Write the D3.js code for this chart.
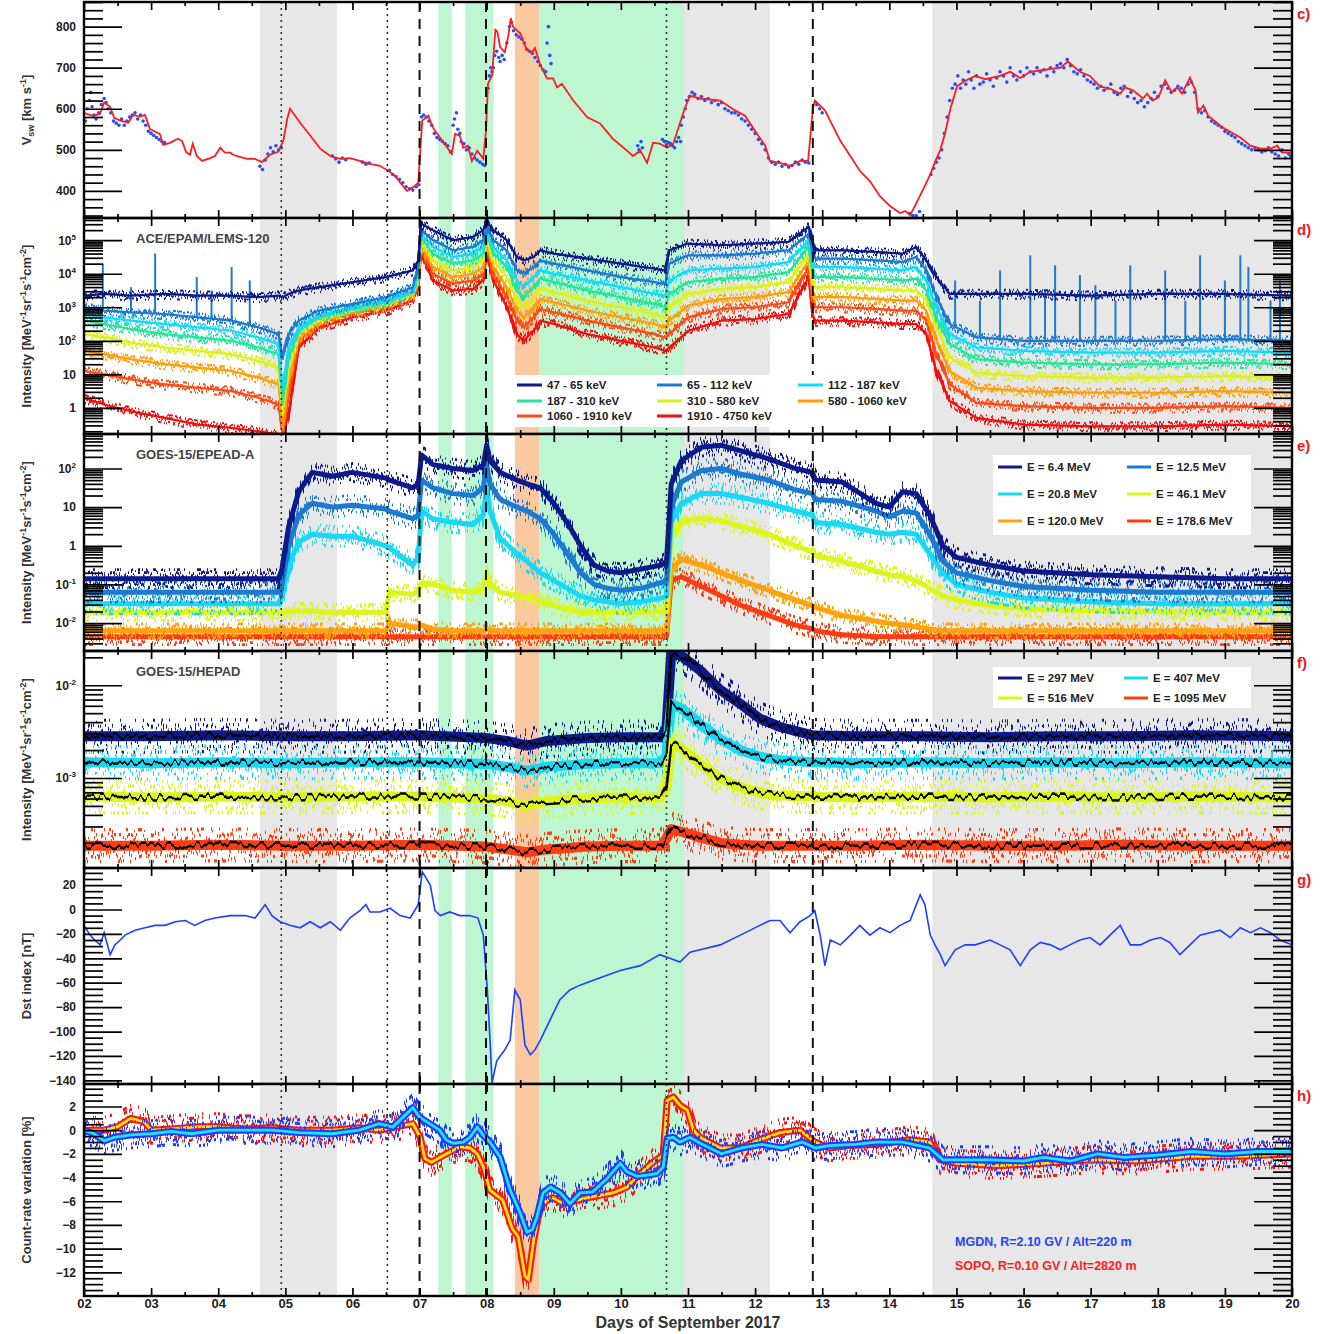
<!DOCTYPE html>
<html>
<head>
<meta charset="utf-8">
<script src="https://cdn.jsdelivr.net/npm/d3@7/dist/d3.min.js"></script>
<style>
  body { margin: 0; background: #fff; }
  text { font-family: "Liberation Sans", Arial, Helvetica, sans-serif; font-weight: bold; }
</style>
</head>
<body>
<svg id="chart" width="1335" height="1334"></svg>
<script>
/* Sept 2017 event: solar wind, ACE/EPAM, GOES EPEAD + HEPAD, Dst, neutron monitors */

// ---- axis ticks / labels ----
const dayTicks  = [2,3,4,5,6,7,8,9,10,11,12,13,14,15,16,17,18,19,20];
const dayLabels = ["02","03","04","05","06","07","08","09","10","11","12","13","14","15","16","17","18","19","20"];
const vswMajors = [400, 500, 600, 700, 800];
const lemsMajors = [1, 10, 1e2, 1e3, 1e4, 1e5];
const epeadMajors = [1e-2, 1e-1, 1, 10, 1e2];
const hepadMajors = [1e-3, 1e-2];
const dstMajors = [-140, -120, -100, -80, -60, -40, -20, 0, 20];
const crMajors = [-12, -10, -8, -6, -4, -2, 0, 2];

// ---- shaded intervals [start, end, kind] and event lines (days) ----
const bands = [
  [4.62, 5.77, "grey"], [7.28, 7.48, "green"], [7.68, 8.10, "green"],
  [8.42, 8.78, "orange"], [8.78, 10.94, "green"], [10.94, 12.22, "grey"], [14.64, 20, "grey"]
];
const dashedDays = [7.0, 7.99, 12.86];
const dottedDays = [4.94, 6.52, 10.68];

// ---- c) solar wind speed [day, km/s] ----
const vswSmooth = [[2.0,590],[2.03,588],[2.13,583],[2.24,588],[2.30,615],[2.39,605],[2.45,578],[2.54,571],[2.66,566],[2.73,585],[2.83,581],[2.91,585],[2.98,551],[3.06,544],[3.13,539],[3.18,512],[3.28,517],[3.40,527],[3.46,522],[3.52,495],[3.58,488],[3.62,515],[3.68,485],[3.76,473],[3.88,480],[3.95,485],[4.03,505],[4.10,493],[4.18,493],[4.22,488],[4.32,483],[4.44,478],[4.55,478],[4.65,470],[4.77,488],[4.89,495],[4.97,522],[5.03,577],[5.07,600],[5.22,566],[5.37,535],[5.52,503],[5.67,485],[5.82,478],[5.96,480],[6.11,473],[6.26,466],[6.41,461],[6.61,441],[6.81,400],[6.93,412],[6.98,420],[7.04,571],[7.13,583],[7.20,554],[7.34,522],[7.48,490],[7.53,539],[7.60,534],[7.65,505],[7.72,510],[7.78,473],[7.86,498],[7.95,478],[7.99,546],[8.02,661],[8.08,681],[8.13,792],[8.16,787],[8.20,750],[8.27,738],[8.32,775],[8.36,821],[8.39,800],[8.50,784],[8.60,743],[8.68,738],[8.72,748],[8.80,706],[8.90,674],[8.99,674],[9.05,652],[9.12,661],[9.29,620],[9.50,579],[9.69,564],[9.88,527],[10.09,498],[10.18,485],[10.29,498],[10.39,468],[10.48,517],[10.58,515],[10.69,505],[10.78,515],[10.95,600],[11.03,632],[11.18,625],[11.48,620],[11.70,596],[11.85,583],[12.00,546],[12.15,510],[12.22,473],[12.37,468],[12.52,461],[12.67,473],[12.79,473],[12.86,600],[12.89,620],[13.04,596],[13.27,522],[13.56,449],[13.71,424],[13.86,387],[14.01,363],[14.16,346],[14.24,351],[14.31,341],[14.38,363],[14.53,412],[14.61,440],[14.68,470],[14.76,500],[14.83,540],[14.91,600],[15.01,655],[15.13,668],[15.28,680],[15.43,672],[15.65,680],[15.80,690],[15.95,675],[16.10,690],[16.32,695],[16.55,700],[16.66,715],[16.84,690],[16.99,680],[17.14,654],[17.29,649],[17.44,637],[17.51,652],[17.63,645],[17.78,625],[17.84,637],[17.92,620],[18.01,628],[18.11,669],[18.21,640],[18.29,652],[18.36,637],[18.48,676],[18.56,645],[18.60,591],[18.68,608],[18.75,583],[18.97,554],[19.23,530],[19.38,510],[19.53,503],[19.68,503],[19.78,510],[19.85,493],[20.0,493]];

const vswRaw = [[2.02,570],[2.05,600],[2.08,620],[2.1,640],[2.12,605],[2.15,585],[2.18,575],[2.22,590],[2.26,610],[2.3,625],[2.33,615],[2.36,600],[2.4,590],[2.44,570],[2.48,565],[2.52,560],[2.56,575],[2.6,560],[2.64,570],[2.68,580],[2.72,585],[2.76,590],[2.8,575],[2.84,585],[2.88,570],[2.92,560],[2.96,545],[3.0,540],[3.04,535],[3.08,530],[3.12,525],[3.16,520],[3.2,518],
  [4.62,460],[4.66,452],[4.7,475],[4.74,490],[4.78,505],[4.82,495],[4.86,510],[4.9,500],[4.94,505],
  [5.7,485],[5.75,478],[5.8,470],[5.85,480],[5.9,476],[6.15,470],[6.2,465],[6.25,468],
  [6.55,450],[6.6,440],[6.65,435],[6.7,428],[6.75,420],[6.8,410],[6.85,405],[6.9,402],[6.95,410],[6.99,415],
  [7.03,580],[7.06,585],[7.1,580],[7.14,570],[7.18,560],[7.22,540],[7.26,530],[7.3,525],[7.34,520],[7.38,515],[7.42,510],[7.46,495],[7.5,560],[7.52,575],[7.55,590],[7.57,550],[7.6,540],[7.62,520],[7.66,515],[7.7,500],[7.74,505],[7.78,490],[7.82,480],[7.86,475],[7.9,470],[7.94,465],[7.97,462],
  [8.02,650],[8.04,680],[8.06,700],[8.08,690],[8.1,700],[8.12,730],[8.15,740],[8.18,725],[8.2,715],[8.23,730],[8.26,720],[8.3,760],[8.34,800],[8.37,810],[8.4,790],[8.44,780],[8.48,775],[8.52,770],[8.56,760],[8.6,745],[8.64,740],[8.68,735],[8.72,725],[8.76,715],[8.8,705],[8.84,695],[8.88,690],[8.9,760],[8.92,800],[8.94,730],[8.96,710],
  [10.25,510],[10.27,500],[10.3,520],[10.32,505],
  [10.62,525],[10.65,520],[10.68,512],[10.71,518],[10.74,515],[10.77,510],[10.8,505],[10.83,520],[10.86,530],[10.89,520],[10.9,560],[10.93,580],[10.96,600],[10.98,620],
  [11.02,630],[11.06,640],[11.1,635],[11.15,625],[11.2,630],[11.25,620],[11.3,625],[11.35,615],[11.4,620],[11.45,610],[11.5,615],[11.55,600],[11.6,595],[11.65,590],[11.7,590],[11.75,585],[11.8,575],[11.85,570],[11.9,560],[11.95,550],[12.0,540],[12.05,525],[12.1,515],[12.15,500],[12.2,480],[12.25,470],[12.3,465],[12.35,470],[12.4,460],[12.45,465],[12.5,458],[12.55,462],[12.6,470],[12.65,465],[12.7,475],[12.75,470],[12.8,468],
  [12.92,610],[12.96,600],[13.0,590],[14.3,345],[14.35,340],[14.4,340],[14.45,350],
  [14.62,440],[14.66,455],[14.7,470],[14.74,480],[14.78,500],[14.82,540],[14.86,580],[14.9,620],[14.94,650],[14.98,660],[15.02,680],[15.06,650],[15.1,670],[15.14,660],[15.18,690],[15.22,670],[15.26,650],[15.3,680],[15.35,660],[15.4,665],[15.45,685],[15.5,670],[15.55,655],[15.6,675],[15.65,690],[15.7,680],[15.75,665],[15.8,700],[15.85,680],[15.9,670],[15.95,690],[16.0,680],[16.05,700],[16.1,690],[16.15,685],[16.2,700],[16.25,690],[16.3,695],[16.35,680],[16.4,700],[16.45,690],[16.5,705],[16.55,710],[16.6,700],[16.65,720],[16.7,705],[16.75,690],[16.8,685],[16.85,695],[16.9,680],[16.95,670],[17.0,665],[17.05,660],[17.1,650],[17.15,655],[17.2,645],[17.25,650],[17.3,660],[17.35,640],[17.4,635],[17.45,650],[17.5,655],[17.55,630],[17.6,640],[17.65,625],[17.7,615],[17.75,620],[17.8,605],[17.85,615],[17.9,625],[17.95,640],[18.0,630],[18.05,655],[18.1,660],[18.15,650],[18.2,640],[18.25,645],[18.3,655],[18.35,650],[18.4,640],[18.45,660],[18.5,665],[18.55,640],[18.6,600],[18.65,590],[18.7,595],[18.75,580],[18.8,570],[18.85,565],[18.9,560],[18.95,555],[19.0,545],[19.05,540],[19.1,535],[19.15,530],[19.2,520],[19.25,515],[19.3,510],[19.35,505],[19.4,500],[19.45,505],[19.5,500],[19.55,495],[19.6,498],[19.65,505],[19.7,495],[19.75,490],[19.8,485],[19.85,500],[19.9,480],[19.95,490],[19.98,485]];

// ---- d) ACE/EPAM/LEMS-120, log10 intensity on a shared time grid ----
const lemsT = [2.0,2.3,2.7,3.2,3.7,4.2,4.6,4.9,4.96,5.05,5.2,5.5,6.0,6.5,6.9,6.98,7.02,7.2,7.5,7.8,7.95,8.0,8.1,8.3,8.45,8.55,8.7,8.8,9.0,9.5,10.0,10.5,10.66,10.72,11.0,11.5,12.0,12.5,12.8,12.85,12.9,13.3,13.8,14.2,14.4,14.55,14.7,14.9,15.3,16.0,17.0,18.0,19.0,20.0];
const lems47   = [3.35,3.4,3.35,3.4,3.35,3.35,3.3,3.35,3.3,3.4,3.5,3.6,3.75,3.9,4.1,4.4,5.5,5.3,5.0,5.1,5.3,5.55,5.3,5.0,4.5,4.4,4.5,4.7,4.6,4.45,4.3,4.15,4.1,4.7,4.9,4.85,4.9,4.95,5.4,5.0,4.7,4.7,4.65,4.6,4.8,4.4,3.9,3.4,3.4,3.4,3.35,3.4,3.4,3.35];
const lems65   = [3.0,2.9,2.85,2.8,2.7,2.6,2.4,2.2,1.5,2.2,2.6,2.9,3.1,3.3,3.6,4.2,5.3,5.0,4.7,4.8,5.0,5.4,5.0,4.7,4.1,4.0,4.2,4.4,4.3,4.1,3.9,3.75,3.7,4.3,4.55,4.55,4.6,4.7,5.2,4.7,4.45,4.45,4.4,4.35,4.5,4.1,3.3,2.5,2.1,2.0,2.0,2.0,2.05,2.0];
const lems112  = [2.8,2.7,2.6,2.5,2.4,2.3,2.1,1.9,0.5,1.8,2.4,2.75,3.0,3.2,3.5,4.1,5.2,4.8,4.5,4.6,4.8,5.3,4.8,4.4,3.8,3.6,3.9,4.1,4.0,3.8,3.6,3.4,3.35,3.8,4.1,4.15,4.2,4.35,5.0,4.4,4.2,4.2,4.15,4.1,4.2,3.8,3.0,2.2,1.8,1.7,1.65,1.65,1.7,1.65];
const lems187  = [2.6,2.5,2.35,2.2,2.1,2.0,1.8,1.6,0.2,1.5,2.3,2.7,2.95,3.15,3.45,4.0,5.1,4.6,4.3,4.4,4.6,5.2,4.6,4.2,3.5,3.3,3.6,3.85,3.75,3.5,3.3,3.1,3.0,3.4,3.75,3.85,3.9,4.05,4.8,4.1,3.9,3.9,3.85,3.8,3.85,3.5,2.7,1.9,1.45,1.35,1.3,1.3,1.35,1.3];
const lems310  = [2.2,2.1,1.95,1.8,1.7,1.6,1.4,1.2,-0.1,1.2,2.2,2.6,2.9,3.1,3.4,3.9,4.95,4.4,4.1,4.2,4.4,5.05,4.4,3.9,3.2,3.0,3.3,3.55,3.45,3.2,3.0,2.8,2.7,3.0,3.4,3.55,3.6,3.75,4.6,3.8,3.6,3.6,3.55,3.5,3.5,3.2,2.4,1.5,1.05,0.95,0.9,0.9,0.95,0.9];
const lems580  = [1.7,1.6,1.45,1.3,1.2,1.1,0.9,0.7,-0.5,0.8,2.1,2.55,2.85,3.05,3.35,3.8,4.85,4.2,3.9,4.0,4.2,4.9,4.2,3.6,2.9,2.7,3.0,3.25,3.15,2.9,2.7,2.5,2.4,2.6,3.05,3.25,3.3,3.45,4.4,3.5,3.3,3.3,3.25,3.2,3.2,2.9,2.0,1.1,0.6,0.5,0.45,0.45,0.5,0.45];
const lems1060 = [1.1,1.0,0.85,0.7,0.6,0.5,0.3,0.1,-0.8,0.4,2.0,2.5,2.8,3.0,3.3,3.7,4.75,4.0,3.7,3.8,4.0,4.75,4.0,3.3,2.6,2.4,2.7,2.95,2.85,2.6,2.4,2.2,2.1,2.2,2.7,2.95,3.0,3.15,4.2,3.2,3.0,3.0,2.95,2.9,2.9,2.6,1.6,0.7,0.15,0.05,0.0,0.0,0.05,0.0];
const lems1910 = [0.3,0.1,-0.1,-0.3,-0.5,-0.6,-0.7,-0.8,-0.8,-0.2,1.8,2.4,2.7,2.9,3.2,3.6,4.6,3.8,3.5,3.55,3.8,4.6,3.8,3.0,2.2,2.0,2.3,2.6,2.5,2.2,2.0,1.8,1.7,1.8,2.3,2.6,2.65,2.8,3.9,2.8,2.6,2.6,2.55,2.5,2.5,2.2,1.1,0.2,-0.3,-0.5,-0.55,-0.55,-0.5,-0.55];
// 65-112 keV spikes [day, base log10, peak log10]
const lemsSpikes = [[2.28,2.9,4.3],[2.7,2.85,3.6],[3.06,2.8,4.6],[3.68,2.7,3.9],[3.9,2.65,3.5],[4.2,2.6,4.2],[4.47,2.45,3.8],
  [14.98,2.4,3.8],[15.35,2.1,3.2],[15.65,2.0,4.1],[16.1,2.0,4.55],[16.32,2.0,3.5],[16.47,2.0,4.25],[16.84,2.0,3.96],[17.07,2.0,3.66],[17.37,2.0,3.2],[17.59,2.0,4.25],[18.11,2.0,4.1],[18.41,2.0,3.2],[18.63,2.0,4.55],[19.0,2.05,3.8],[19.23,2.0,4.55],[19.35,2.0,4.2],[19.68,2.0,3.2],[19.82,2.0,3.8]];

// ---- e) GOES-15/EPEAD-A, log10 intensity ----
const epeadT = [2.0,3.0,4.0,4.9,4.95,5.05,5.2,5.4,5.7,6.0,6.5,6.55,6.9,6.98,7.03,7.2,7.5,7.8,7.95,8.0,8.05,8.2,8.45,8.6,8.8,9.0,9.2,9.4,9.6,9.8,10.0,10.3,10.6,10.68,10.75,10.9,11.2,11.5,11.8,12.2,12.6,12.85,12.9,13.3,13.8,14.0,14.2,14.4,14.6,14.8,15.0,15.5,16.0,17.0,18.0,19.0,20.0];
const ep6_4   = [-0.85,-0.85,-0.85,-0.85,-0.6,0.5,1.4,1.9,1.8,1.9,1.75,1.7,1.5,1.6,2.35,2.1,2.0,1.95,2.1,2.6,2.2,1.9,1.7,1.6,1.5,1.1,0.6,0.0,-0.5,-0.65,-0.7,-0.6,-0.5,-0.4,1.6,2.2,2.55,2.6,2.45,2.25,2.0,1.9,1.7,1.65,1.1,1.0,1.4,1.35,0.8,0.0,-0.3,-0.5,-0.65,-0.75,-0.8,-0.85,-0.85];
const ep12_5  = [-1.2,-1.2,-1.2,-1.2,-1.0,0.0,0.8,1.1,1.0,1.05,0.95,0.9,0.7,0.8,1.7,1.5,1.35,1.3,1.5,2.1,1.6,1.2,1.0,0.9,0.7,0.3,-0.2,-0.7,-1.0,-1.1,-1.15,-1.1,-0.95,-0.9,1.0,1.65,1.95,2.0,1.85,1.7,1.45,1.35,1.2,1.15,0.9,0.75,0.9,0.85,0.3,-0.4,-0.7,-0.9,-1.05,-1.15,-1.2,-1.2,-1.2];
const ep20_8  = [-1.5,-1.5,-1.5,-1.5,-1.3,-0.5,0.1,0.3,0.25,0.25,0.0,-0.05,-0.5,-0.3,0.9,0.7,0.6,0.55,0.8,1.5,0.9,0.2,-0.2,-0.4,-0.7,-0.9,-1.1,-1.3,-1.4,-1.45,-1.5,-1.45,-1.35,-1.3,0.6,1.1,1.35,1.35,1.25,1.1,0.9,0.8,0.6,0.55,0.35,0.3,0.35,0.3,-0.2,-0.7,-1.0,-1.2,-1.35,-1.45,-1.5,-1.5,-1.5];
const ep46_1  = [-1.72,-1.72,-1.72,-1.72,-1.72,-1.7,-1.7,-1.7,-1.72,-1.72,-1.72,-1.2,-1.25,-1.2,-0.95,-1.0,-1.15,-1.2,-1.1,-0.7,-1.0,-1.2,-1.3,-1.35,-1.45,-1.55,-1.65,-1.7,-1.72,-1.72,-1.72,-1.72,-1.7,-1.7,0.2,0.65,0.7,0.65,0.5,0.3,0.0,-0.15,-0.25,-0.4,-0.65,-0.75,-0.8,-0.9,-1.1,-1.3,-1.4,-1.55,-1.62,-1.68,-1.7,-1.72,-1.72];
const ep120   = [-2.2,-2.2,-2.2,-2.2,-2.2,-2.2,-2.2,-2.2,-2.2,-2.2,-2.2,-2.0,-2.1,-2.1,-2.05,-2.15,-2.2,-2.2,-2.2,-2.15,-2.2,-2.2,-2.2,-2.2,-2.2,-2.2,-2.2,-2.2,-2.2,-2.2,-2.2,-2.2,-2.2,-2.2,-0.6,-0.35,-0.5,-0.7,-0.9,-1.15,-1.4,-1.55,-1.6,-1.8,-1.95,-2.0,-2.05,-2.1,-2.15,-2.2,-2.2,-2.2,-2.2,-2.2,-2.2,-2.2,-2.2];
const ep178_6 = [-2.35,-2.35,-2.35,-2.35,-2.35,-2.35,-2.35,-2.35,-2.35,-2.35,-2.35,-2.35,-2.35,-2.35,-2.35,-2.35,-2.35,-2.35,-2.35,-2.35,-2.35,-2.35,-2.35,-2.35,-2.35,-2.35,-2.35,-2.35,-2.35,-2.35,-2.35,-2.35,-2.35,-2.35,-0.9,-0.8,-1.05,-1.3,-1.55,-1.8,-2.05,-2.15,-2.2,-2.3,-2.35,-2.35,-2.35,-2.35,-2.35,-2.35,-2.35,-2.35,-2.35,-2.35,-2.35,-2.35,-2.35];

// ---- f) GOES-15/HEPAD, log10 intensity ----
const hepadT = [2.0,3.0,4.0,5.0,6.0,7.0,8.0,8.3,8.6,8.9,9.5,10.0,10.6,10.68,10.75,10.9,11.18,11.48,11.78,12.07,12.37,12.86,13.5,14.5,15.5,16.5,17.5,18.5,20.0];
const hp297  = [-2.55,-2.55,-2.54,-2.55,-2.55,-2.54,-2.57,-2.6,-2.65,-2.6,-2.57,-2.56,-2.56,-2.45,-1.65,-1.68,-1.84,-2.05,-2.2,-2.36,-2.45,-2.54,-2.55,-2.55,-2.56,-2.55,-2.55,-2.54,-2.55];
const hp407  = [-2.83,-2.84,-2.83,-2.84,-2.83,-2.83,-2.85,-2.88,-2.92,-2.88,-2.85,-2.84,-2.84,-2.75,-2.2,-2.25,-2.42,-2.58,-2.7,-2.77,-2.81,-2.83,-2.84,-2.83,-2.84,-2.83,-2.84,-2.83,-2.84];
const hp516  = [-3.2,-3.21,-3.2,-3.21,-3.2,-3.2,-3.22,-3.25,-3.3,-3.25,-3.22,-3.21,-3.21,-3.1,-2.62,-2.68,-2.85,-3.0,-3.1,-3.16,-3.19,-3.2,-3.21,-3.2,-3.21,-3.2,-3.21,-3.2,-3.21];
const hp1095 = [-3.73,-3.73,-3.72,-3.73,-3.73,-3.72,-3.74,-3.77,-3.8,-3.77,-3.74,-3.73,-3.73,-3.65,-3.55,-3.58,-3.64,-3.7,-3.72,-3.73,-3.73,-3.73,-3.73,-3.72,-3.73,-3.73,-3.72,-3.73,-3.73];

// ---- g) Dst index [day, nT] ----
const dst = [[2.00,-13],[2.09,-21],[2.16,-25],[2.24,-29],[2.30,-19],[2.39,-37],[2.46,-29],[2.54,-25],[2.61,-21],[2.76,-17],[2.91,-15],[3.06,-13],[3.21,-13],[3.36,-10],[3.51,-9],[3.65,-13],[3.80,-9],[3.95,-7],[4.18,-5],[4.40,-5],[4.55,-7],[4.70,4],[4.80,-5],[4.92,-10],[5.07,-13],[5.22,-15],[5.37,-10],[5.52,-15],[5.67,-10],[5.82,-17],[5.96,-7],[6.11,-1],[6.20,4],[6.26,-2],[6.41,-2],[6.56,1],[6.71,-5],[6.86,-7],[6.98,4],[7.04,31],[7.16,20],[7.23,-1],[7.31,-5],[7.45,-2],[7.60,-5],[7.75,-5],[7.87,-7],[7.95,-21],[8.01,-66],[8.05,-107],[8.08,-142],[8.15,-124],[8.27,-115],[8.35,-107],[8.42,-66],[8.50,-74],[8.57,-111],[8.65,-119],[8.72,-115],[8.80,-107],[8.94,-91],[9.09,-74],[9.24,-66],[9.39,-62],[9.69,-56],[9.99,-50],[10.29,-46],[10.58,-37],[10.73,-40],[10.88,-43],[11.03,-35],[11.18,-33],[11.48,-29],[11.78,-21],[12.07,-13],[12.22,-9],[12.37,-9],[12.52,-19],[12.67,-10],[12.82,-5],[12.89,-1],[12.97,-21],[13.04,-46],[13.12,-25],[13.27,-29],[13.42,-21],[13.56,-13],[13.71,-21],[13.86,-15],[14.01,-19],[14.16,-13],[14.31,-9],[14.46,12],[14.53,4],[14.61,-21],[14.68,-29],[14.76,-37],[14.83,-46],[14.98,-33],[15.13,-29],[15.28,-29],[15.50,-25],[15.65,-29],[15.80,-33],[15.95,-46],[16.10,-33],[16.25,-27],[16.40,-29],[16.55,-33],[16.69,-29],[16.84,-25],[16.99,-23],[17.14,-29],[17.29,-21],[17.44,-13],[17.59,-29],[17.74,-29],[17.89,-25],[18.04,-23],[18.18,-27],[18.33,-37],[18.48,-29],[18.63,-21],[18.78,-19],[18.93,-17],[19.08,-23],[19.23,-15],[19.38,-19],[19.53,-15],[19.68,-19],[19.82,-25],[20.00,-29]];

// ---- h) neutron monitor count-rate variation [day, %] ----
const mgdn = [[2.0,0.0],[2.15,-0.3],[2.3,-0.9],[2.45,-0.6],[2.7,-0.4],[3.0,-0.3],[3.3,-0.1],[3.6,-0.3],[4.0,0.0],[4.4,0.0],[4.8,0.0],[5.2,-0.2],[5.7,-0.3],[6.1,0.0],[6.4,0.55],[6.6,0.26],[6.9,1.9],[7.0,1.1],[7.15,0.55],[7.3,0.0],[7.4,-0.85],[7.5,-1.1],[7.65,-1.0],[7.75,-0.6],[7.86,0.26],[7.95,-0.44],[8.05,-1.0],[8.2,-2.26],[8.35,-5.06],[8.5,-7.0],[8.6,-8.6],[8.68,-8.4],[8.75,-7.3],[8.84,-5.3],[8.95,-4.8],[9.1,-5.3],[9.24,-6.2],[9.39,-5.3],[9.58,-5.2],[9.79,-4.1],[9.99,-2.8],[10.09,-3.5],[10.24,-3.9],[10.39,-3.8],[10.54,-3.65],[10.63,-3.1],[10.69,-0.7],[10.78,-0.6],[10.88,-1.0],[11.03,-0.6],[11.18,-1.1],[11.5,-2.0],[11.8,-1.5],[12.1,-1.2],[12.4,-1.5],[12.7,-1.0],[12.9,-1.5],[13.1,-1.3],[13.5,-1.2],[13.8,-1.0],[14.2,-1.0],[14.6,-1.5],[14.8,-2.5],[15.0,-2.5],[15.5,-2.5],[16.0,-2.6],[16.3,-2.3],[16.7,-2.6],[17.1,-2.0],[17.5,-2.3],[18.0,-2.1],[18.5,-1.8],[19.0,-2.0],[19.5,-1.8],[20.0,-1.8]];
const sopo = [[2.0,0.0],[2.3,0.0],[2.5,0.3],[2.7,1.0],[2.9,0.7],[3.0,0.0],[3.3,0.1],[3.7,0.3],[4.0,0.3],[4.4,0.1],[4.8,0.2],[5.2,0.0],[5.7,0.0],[6.1,0.2],[6.4,0.0],[6.9,0.55],[7.01,-0.6],[7.08,-2.4],[7.18,-2.7],[7.3,-2.3],[7.45,-1.84],[7.6,-1.4],[7.75,-1.5],[7.86,-2.0],[7.95,-3.1],[8.05,-5.06],[8.15,-5.5],[8.24,-5.9],[8.38,-8.3],[8.47,-9.0],[8.57,-12.3],[8.62,-12.6],[8.7,-9.3],[8.8,-6.5],[8.9,-5.9],[8.99,-5.7],[9.14,-6.2],[9.29,-6.0],[9.5,-5.7],[9.69,-5.5],[9.88,-5.3],[10.09,-4.8],[10.29,-3.65],[10.48,-2.7],[10.63,-2.1],[10.69,2.5],[10.78,2.8],[10.88,2.1],[10.99,1.7],[11.08,0.0],[11.18,-0.6],[11.48,-1.5],[11.78,-1.5],[12.07,-0.8],[12.37,-0.2],[12.67,0.0],[12.89,-1.0],[13.1,-1.5],[13.4,-1.3],[13.8,-1.2],[14.3,-0.8],[14.6,-1.0],[14.75,-2.5],[15.0,-2.8],[15.6,-3.0],[16.3,-2.8],[17.0,-2.5],[17.7,-2.6],[18.5,-2.2],[19.2,-2.2],[20.0,-2.0]];

(function () {
  const W = 1335, H = 1334, L = 84, R = 1292;
  const svg = d3.select("#chart");
  const defs = svg.append("defs");
  const bandFill = { grey: "#e7e7e7", green: "#bdf6d1", orange: "#fac9a2" };

  const x = d3.scaleLinear().domain([2, 20]).range([L, R]);
  const lineOf = y => d3.line().x(d => x(d[0])).y(d => y(d[1]));
  const logPts = (ts, es) => ts.map((t, i) => [t, Math.pow(10, es[i])]);

  // noisy look for raw-rate series: vertical displacement driven by turbulence
  let seed = 1;
  function jitter(scale, freq, gain) {
    const id = "jit" + seed;
    const k = gain || 4;
    const f = defs.append("filter").attr("id", id)
      .attr("filterUnits", "userSpaceOnUse")
      .attr("x", 0).attr("y", 0).attr("width", W).attr("height", H)
      .attr("color-interpolation-filters", "sRGB");
    f.append("feTurbulence").attr("type", "fractalNoise")
      .attr("baseFrequency", `${freq || 0.4} 0.004`).attr("numOctaves", 2)
      .attr("seed", seed++).attr("result", "t");
    const ct = f.append("feComponentTransfer").attr("in", "t").attr("result", "n");
    ct.append("feFuncR").attr("type", "linear").attr("slope", k).attr("intercept", 0.5 - k / 2);
    ct.append("feFuncG").attr("type", "linear").attr("slope", 0).attr("intercept", 0.5);
    f.append("feDisplacementMap").attr("in", "SourceGraphic").attr("in2", "n")
      .attr("scale", scale).attr("xChannelSelector", "G").attr("yChannelSelector", "R");
    return `url(#${id})`;
  }

  // draws a raw (noisy) trace: a core band plus two jittered traces on top
  function noisy(layer, pts, y, color, core, trace, amp) {
    layer.append("path").datum(pts).attr("d", lineOf(y)).attr("fill", "none")
      .attr("stroke", color).attr("stroke-width", core).attr("stroke-linejoin", "round");
    layer.append("path").datum(pts).attr("d", lineOf(y)).attr("fill", "none")
      .attr("stroke", color).attr("stroke-width", trace).attr("filter", jitter(amp, 0.45, 4));
    layer.append("path").datum(pts).attr("d", lineOf(y)).attr("fill", "none")
      .attr("stroke", color).attr("stroke-width", trace).attr("filter", jitter(amp * 0.7, 0.6, 3));
  }

  // 1) panels
  function makePanel(top, bot) {
    const g = svg.append("g");
    const cid = "clip" + top;
    defs.append("clipPath").attr("id", cid).append("rect")
      .attr("x", L).attr("y", top).attr("width", R - L).attr("height", bot - top);
    const plot = g.append("g").attr("clip-path", `url(#${cid})`);
    plot.selectAll("rect.band").data(bands).join("rect")
      .attr("class", "band")
      .attr("x", d => x(d[0])).attr("width", d => x(d[1]) - x(d[0]))
      .attr("y", top).attr("height", bot - top)
      .attr("fill", d => bandFill[d[2]]);
    const data = plot.append("g");
    const over = plot.append("g");
    return { g, plot, data, over, top, bot };
  }

  function eventLines(p) {
    p.over.selectAll("line.dash").data(dashedDays).join("line")
      .attr("x1", d => x(d)).attr("x2", d => x(d)).attr("y1", p.top).attr("y2", p.bot)
      .attr("stroke", "#111").attr("stroke-width", 2).attr("stroke-dasharray", "10,7");
    p.over.selectAll("line.dot").data(dottedDays).join("line")
      .attr("x1", d => x(d)).attr("x2", d => x(d)).attr("y1", p.top).attr("y2", p.bot)
      .attr("stroke", "#333").attr("stroke-width", 1.6).attr("stroke-dasharray", "2,4");
  }

  function styleAxis(sel) {
    sel.select(".domain").remove();
    sel.selectAll("line").attr("stroke", "#000").attr("stroke-width", 1.7);
    sel.selectAll("text").attr("font-size", 12).attr("fill", "#222");
  }

  function logLabels(sel) {
    sel.selectAll(".tick text").each(function (d) {
      const e = Math.round(Math.log10(d));
      const t = d3.select(this).text(null);
      if (e === 0) t.text("1");
      else if (e === 1) t.text("10");
      else {
        t.append("tspan").text("10");
        t.append("tspan").attr("dy", -5).attr("font-size", 8).text(e);
      }
    });
  }

  function logMinors(y) {
    const [a, b] = y.domain();
    const out = [];
    for (let k = Math.floor(Math.log10(a)); k <= Math.ceil(Math.log10(b)); k++)
      for (let m = 2; m <= 9; m++) { const v = m * Math.pow(10, k); if (v > a && v < b) out.push(v); }
    return out;
  }

  function frame(p, y, majors, minors, isLog, bottomLabels) {
    const g = p.g;
    const left = g.append("g").attr("transform", `translate(${L},0)`)
      .call(d3.axisLeft(y).tickValues(majors).tickSize(-38).tickPadding(8));
    styleAxis(left);
    if (isLog) logLabels(left);
    g.append("g").attr("transform", `translate(${L},0)`)
      .call(d3.axisLeft(y).tickValues(minors).tickSize(-19).tickFormat("")).call(styleAxis);
    g.append("g").attr("transform", `translate(${R},0)`)
      .call(d3.axisRight(y).tickValues(majors).tickSize(-38).tickFormat("")).call(styleAxis);
    g.append("g").attr("transform", `translate(${R},0)`)
      .call(d3.axisRight(y).tickValues(minors).tickSize(-19).tickFormat("")).call(styleAxis);
    const halfDays = dayTicks.slice(0, -1).map(d => d + 0.5);
    g.append("g").attr("transform", `translate(0,${p.top})`)
      .call(d3.axisTop(x).tickValues(dayTicks).tickSize(-8).tickFormat("")).call(styleAxis);
    g.append("g").attr("transform", `translate(0,${p.top})`)
      .call(d3.axisTop(x).tickValues(halfDays).tickSize(-4).tickFormat("")).call(styleAxis);
    const bx = g.append("g").attr("transform", `translate(0,${p.bot})`)
      .call(d3.axisBottom(x).tickValues(dayTicks).tickSize(-8).tickPadding(3)
        .tickFormat((d, i) => bottomLabels ? dayLabels[i] : ""));
    styleAxis(bx);
    bx.selectAll("text").attr("font-size", 13);
    g.append("g").attr("transform", `translate(0,${p.bot})`)
      .call(d3.axisBottom(x).tickValues(halfDays).tickSize(-4).tickFormat("")).call(styleAxis);
    g.append("rect").attr("x", L).attr("y", p.top).attr("width", R - L).attr("height", p.bot - p.top)
      .attr("fill", "none").attr("stroke", "#000").attr("stroke-width", 2.4);
  }

  function yTitle(p, parts) {
    const t = svg.append("text")
      .attr("transform", `translate(31,${(p.top + p.bot) / 2}) rotate(-90)`)
      .attr("text-anchor", "middle").attr("fill", "#333").attr("font-size", 13);
    let shift = 0;
    parts.forEach(([s, kind]) => {
      const target = kind === "sup" ? -5 : kind === "sub" ? 3 : 0;
      t.append("tspan").attr("dy", target - shift).attr("font-size", kind ? 9 : 13).text(s);
      shift = target;
    });
  }

  function panelTag(p, letter) {
    svg.append("text").attr("x", 1297).attr("y", p.top + 17)
      .attr("fill", "#f01818").attr("font-size", 15).text(letter);
  }

  function panelTitle(p, s) {
    svg.append("text").attr("x", 136).attr("y", p.top + 25)
      .attr("fill", "#444").attr("font-size", 13).text(s);
  }

  function legend(p, box, entries, cols, rowY, lineLen) {
    const lg = p.g.append("g");
    lg.append("rect").attr("x", box[0]).attr("y", box[1]).attr("width", box[2]).attr("height", box[3]).attr("fill", "#fff");
    entries.forEach((e, i) => {
      const cx = cols[i % cols.length], cy = rowY[Math.floor(i / cols.length)];
      lg.append("line").attr("x1", cx).attr("x2", cx + lineLen).attr("y1", cy).attr("y2", cy)
        .attr("stroke", e.color).attr("stroke-width", 3);
      lg.append("text").attr("x", cx + lineLen + 5).attr("y", cy + 4)
        .attr("font-size", 11.5).attr("fill", "#222").text(e.label);
    });
  }

  const tops = [2, 218, 434, 651, 868, 1084, 1296];
  const P = d3.range(6).map(i => makePanel(tops[i], tops[i + 1]));

  // 2) c) solar wind speed
  const yV = d3.scaleLinear().domain([334, 860]).range([218, 2]);
  P[0].data.selectAll("circle").data(vswRaw).join("circle")
    .attr("cx", d => x(d[0])).attr("cy", d => yV(d[1])).attr("r", 1.8).attr("fill", "#2a4cff");
  P[0].data.append("path").datum(vswSmooth).attr("d", lineOf(yV))
    .attr("fill", "none").attr("stroke", "#ff1c1c").attr("stroke-width", 1.8);

  // 3) d) ACE/EPAM/LEMS-120
  const yD = d3.scaleLog().domain([0.166, 4.6e5]).range([434, 218]);
  const lemsSeries = [
    { label: "47 - 65 keV", color: "#0c1a8c", v: lems47 },
    { label: "65 - 112 keV", color: "#1c7ad0", v: lems65 },
    { label: "112 - 187 keV", color: "#18d8f6", v: lems112 },
    { label: "187 - 310 keV", color: "#22e69a", v: lems187 },
    { label: "310 - 580 keV", color: "#dcf01c", v: lems310 },
    { label: "580 - 1060 keV", color: "#ff9e0a", v: lems580 },
    { label: "1060 - 1910 keV", color: "#ff4a14", v: lems1060 },
    { label: "1910 - 4750 keV", color: "#f01010", v: lems1910 }
  ];
  lemsSeries.slice().reverse().forEach(s => {
    noisy(P[1].data, logPts(lemsT, s.v), yD, s.color, 2.2, 2, 9);
    if (s.v === lems65) {
      P[1].data.selectAll("line.spike").data(lemsSpikes).join("line").attr("class", "spike")
        .attr("x1", d => x(d[0])).attr("x2", d => x(d[0]))
        .attr("y1", d => yD(Math.pow(10, d[1]))).attr("y2", d => yD(Math.pow(10, d[2])))
        .attr("stroke", s.color).attr("stroke-width", 2);
    }
  });

  // 4) e) GOES-15/EPEAD-A
  const yE = d3.scaleLog().domain([0.0019, 780]).range([651, 434]);
  const epeadSeries = [
    { label: "E = 6.4 MeV", color: "#0c1a8c", v: ep6_4, n: 18 },
    { label: "E = 12.5 MeV", color: "#1c7ad0", v: ep12_5, n: 20 },
    { label: "E = 20.8 MeV", color: "#18d8f6", v: ep20_8, n: 20 },
    { label: "E = 46.1 MeV", color: "#dcf51c", v: ep46_1, n: 16 },
    { label: "E = 120.0 MeV", color: "#ffa20e", v: ep120, n: 14 },
    { label: "E = 178.6 MeV", color: "#ff3c12", v: ep178_6, n: 16 }
  ];
  epeadSeries.slice().reverse().forEach(s => {
    noisy(P[2].data, logPts(epeadT, s.v), yE, s.color, 5, 2.8, s.n);
  });

  // 5) f) GOES-15/HEPAD
  const yF = d3.scaleLog().domain([1.07e-4, 0.0234]).range([868, 651]);
  const hepadSeries = [
    { label: "E = 297 MeV", color: "#0c1a8c", v: hp297 },
    { label: "E = 407 MeV", color: "#18d8f6", v: hp407 },
    { label: "E = 516 MeV", color: "#dcf51c", v: hp516 },
    { label: "E = 1095 MeV", color: "#ff3c12", v: hp1095 }
  ];
  hepadSeries.forEach(s => {
    noisy(P[3].data, logPts(hepadT, s.v), yF, s.color, 10, 3.2, 32);
  });
  hepadSeries.forEach(s => {
    P[3].data.append("path").datum(logPts(hepadT, s.v)).attr("d", lineOf(yF)).attr("fill", "none")
      .attr("stroke", "#000").attr("stroke-width", 2.4).attr("filter", jitter(6, 0.15, 3));
  });

  // 6) g) Dst
  const yG = d3.scaleLinear().domain([-143, 34]).range([1084, 868]);
  P[4].data.append("path").datum(dst).attr("d", lineOf(yG))
    .attr("fill", "none").attr("stroke", "#1d40ff").attr("stroke-width", 1.6);

  // 7) h) count-rate variation
  const yH = d3.scaleLinear().domain([-14, 3.9]).range([1296, 1084]);
  [[sopo, "#ff1414", "#ffe800"], [mgdn, "#1e3cff", "#1ee4ff"]].forEach(([pts, raw, smooth]) => {
    noisy(P[5].data, pts, yH, raw, 7, 3, 26);
    P[5].data.append("path").datum(pts).attr("d", lineOf(yH)).attr("fill", "none")
      .attr("stroke", smooth).attr("stroke-width", 2.8);
  });

  // 8) event lines, legends, frames
  P.forEach(eventLines);

  legend(P[1], [510, 375, 410, 52], lemsSeries, [517, 657, 798], [385, 401, 416], 25);
  legend(P[2], [993, 455, 258, 80], epeadSeries, [998, 1127], [467, 494, 521], 24);
  legend(P[3], [993, 667, 258, 41], hepadSeries, [998, 1124], [678, 698], 24);

  frame(P[0], yV, vswMajors, d3.range(340, 861, 20).filter(v => v % 100), false, false);
  frame(P[1], yD, lemsMajors, logMinors(yD), true, false);
  frame(P[2], yE, epeadMajors, logMinors(yE), true, false);
  frame(P[3], yF, hepadMajors, logMinors(yF), true, false);
  frame(P[4], yG, dstMajors, d3.range(-140, 34, 5).filter(v => v % 20), false, false);
  frame(P[5], yH, crMajors, d3.range(-14, 3.9, 0.5).filter(v => v % 2), false, true);

  // 9) texts
  const intensity = [["Intensity [MeV"], ["-1", "sup"], ["sr"], ["-1", "sup"], ["s"], ["-1", "sup"], ["cm"], ["-2", "sup"], ["]"]];
  yTitle(P[0], [["V"], ["sw", "sub"], [" [km s"], ["-1", "sup"], ["]"]]);
  yTitle(P[1], intensity);
  yTitle(P[2], intensity);
  yTitle(P[3], intensity);
  yTitle(P[4], [["Dst index [nT]"]]);
  yTitle(P[5], [["Count-rate variation [%]"]]);

  ["c)", "d)", "e)", "f)", "g)", "h)"].forEach((s, i) => panelTag(P[i], s));
  panelTitle(P[1], "ACE/EPAM/LEMS-120");
  panelTitle(P[2], "GOES-15/EPEAD-A");
  panelTitle(P[3], "GOES-15/HEPAD");

  svg.append("text").attr("x", 955).attr("y", 1246).attr("font-size", 12.5)
    .attr("fill", "#2444ff").text("MGDN, R=2.10 GV / Alt=220 m");
  svg.append("text").attr("x", 955).attr("y", 1270).attr("font-size", 12.5)
    .attr("fill", "#ff1c1c").text("SOPO, R=0.10 GV / Alt=2820 m");

  svg.append("text").attr("x", 688).attr("y", 1328).attr("text-anchor", "middle")
    .attr("font-size", 16).attr("fill", "#333").text("Days of September 2017");
})();
</script>
</body>
</html>
